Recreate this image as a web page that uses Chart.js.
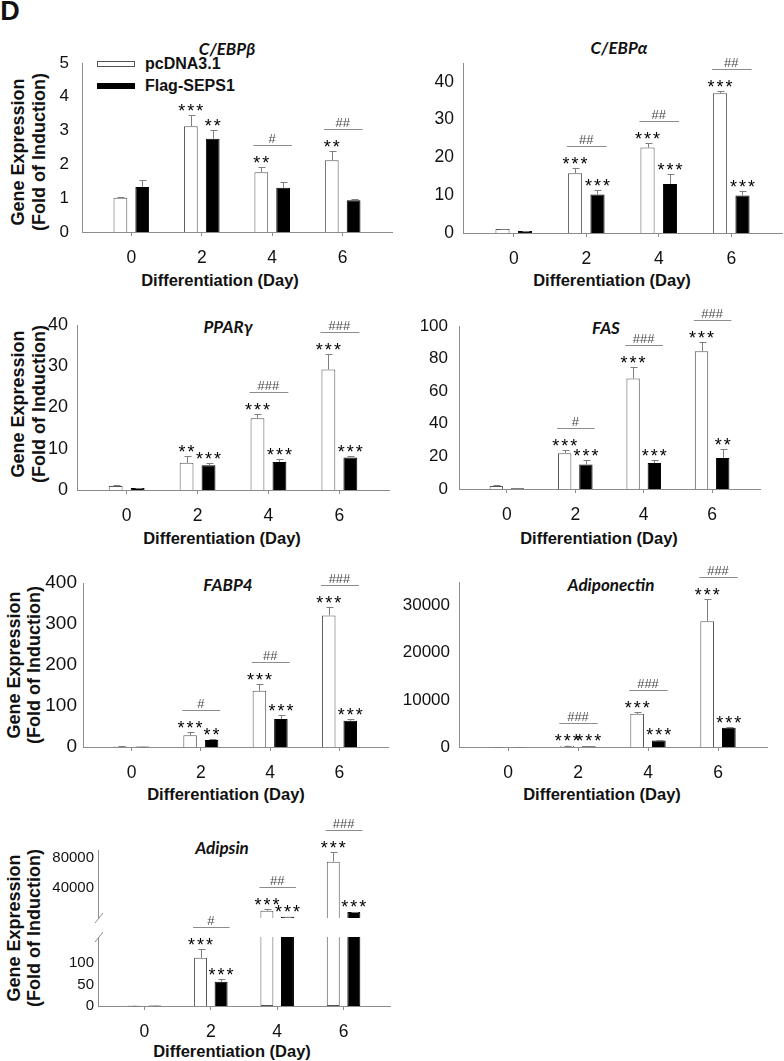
<!DOCTYPE html>
<html>
<head>
<meta charset="utf-8">
<title>SEPS1 adipogenic gene expression</title>
<script src="https://cdn.jsdelivr.net/npm/chart.js@4.4.1/dist/chart.umd.min.js"></script>
<style>
  html, body { margin: 0; padding: 0; background: #fff; }
  body { position: relative; width: 784px; height: 1061px; overflow: hidden; font-family: "Liberation Sans", Arial, sans-serif; color: #111; }
  canvas { position: absolute; }
  .lbl { position: absolute; white-space: nowrap; line-height: 1; transform: translate(-50%, -50%); }
  .gene { font-family: Lato, "Noto Sans", sans-serif; font-weight: bold; font-style: italic; font-size: 17px; }
  .xt { font-weight: bold; font-size: 16.5px; }
  .yt { font-weight: bold; font-size: 18px; transform: translate(-50%, -50%) rotate(-90deg); }
  .leg { position: absolute; font-weight: bold; font-size: 16px; line-height: 1; white-space: nowrap; transform: translateY(-50%); }
  .box { position: absolute; width: 38px; height: 6px; box-sizing: border-box; }
</style>
</head>
<body>
<div class="lbl" style="left:10px;top:11px;font-weight:bold;font-size:27px">D</div>

<div class="lbl gene" style="left:227px;top:48px">C/EBPβ</div>
<div class="lbl gene" style="left:619px;top:47px">C/EBPα</div>
<div class="lbl gene" style="left:228px;top:326px">PPARγ</div>
<div class="lbl gene" style="left:606px;top:327px">FAS</div>
<div class="lbl gene" style="left:228px;top:584px">FABP4</div>
<div class="lbl gene" style="left:611px;top:584px">Adiponectin</div>
<div class="lbl gene" style="left:222px;top:847px">Adipsin</div>

<div class="box" style="left:97px;top:61px;background:#fff;border:1px solid #555"></div>
<div class="leg" style="left:145px;top:63.5px">pcDNA3.1</div>
<div class="box" style="left:97px;top:83px;background:#000"></div>
<div class="leg" style="left:145px;top:85.5px">Flag-SEPS1</div>

<div class="lbl yt" style="left:18px;top:152px">Gene Expression</div>
<div class="lbl yt" style="left:39px;top:152px">(Fold of Induction)</div>
<div class="lbl yt" style="left:18px;top:404px">Gene Expression</div>
<div class="lbl yt" style="left:39px;top:404px">(Fold of Induction)</div>
<div class="lbl yt" style="left:14px;top:665px">Gene Expression</div>
<div class="lbl yt" style="left:34px;top:665px">(Fold of Induction)</div>
<div class="lbl yt" style="left:14px;top:928px">Gene Expression</div>
<div class="lbl yt" style="left:34px;top:928px">(Fold of Induction)</div>

<div class="lbl xt" style="left:220px;top:280px">Differentiation (Day)</div>
<div class="lbl xt" style="left:612px;top:280px">Differentiation (Day)</div>
<div class="lbl xt" style="left:222px;top:538px">Differentiation (Day)</div>
<div class="lbl xt" style="left:599px;top:538px">Differentiation (Day)</div>
<div class="lbl xt" style="left:226px;top:794px">Differentiation (Day)</div>
<div class="lbl xt" style="left:602px;top:794px">Differentiation (Day)</div>
<div class="lbl xt" style="left:232px;top:1051px">Differentiation (Day)</div>

<script>
const days = [0, 2, 4, 6];
const seriesNames = ['pcDNA3.1', 'Flag-SEPS1'];

// C/EBPβ
const cebpbPc = [1.01, 3.13, 1.77, 2.12];
const cebpbPcErr = [1.05, 3.45, 1.92, 2.39];
const cebpbFlag = [1.33, 2.76, 1.31, 0.94];
const cebpbFlagErr = [1.53, 3.03, 1.48, 0.99];
const cebpbPcSig = ['', '***', '**', '**'];
const cebpbFlagSig = ['', '**', '', ''];
const cebpbHash = ['', '', '#', '##'];
const cebpbTicks = [0, 1, 2, 3, 4, 5];

// C/EBPα
const cebpaPc = [1.05, 15.8, 22.6, 37.0];
const cebpaPcErr = [1.1, 17.3, 23.7, 37.5];
const cebpaFlag = [0.5, 10.2, 13.0, 9.9];
const cebpaFlagErr = [0.55, 11.3, 15.6, 11.2];
const cebpaPcSig = ['', '***', '***', '***'];
const cebpaFlagSig = ['', '***', '***', '***'];
const cebpaHash = ['', '##', '##', '##'];
const cebpaTicks = [0, 10, 20, 30, 40];

// PPARγ
const pparPc = [1.0, 6.6, 17.4, 29.2];
const pparPcErr = [1.1, 8.2, 18.4, 33.0];
const pparFlag = [0.5, 6.0, 6.8, 7.9];
const pparFlagErr = [0.6, 6.5, 7.6, 8.3];
const pparPcSig = ['', '**', '***', '***'];
const pparFlagSig = ['', '***', '***', '***'];
const pparHash = ['', '', '###', '###'];
const pparTicks = [0, 10, 20, 30, 40];

// FAS
const fasPc = [1.9, 22.0, 67.8, 84.5];
const fasPcErr = [2.3, 23.9, 74.6, 90.0];
const fasFlag = [0.5, 15.0, 15.9, 19.0];
const fasFlagErr = [0.6, 17.5, 17.5, 24.5];
const fasPcSig = ['', '***', '***', '***'];
const fasFlagSig = ['', '***', '***', '**'];
const fasHash = ['', '#', '###', '###'];
const fasTicks = [0, 20, 40, 60, 80, 100];

// FABP4
const fabpPc = [1.0, 28.5, 137, 321];
const fabpPcErr = [1.5, 36, 154, 341];
const fabpFlag = [1.0, 17, 68, 64];
const fabpFlagErr = [1.2, 19.5, 79, 68];
const fabpPcSig = ['', '***', '***', '***'];
const fabpFlagSig = ['', '**', '***', '***'];
const fabpHash = ['', '#', '##', '###'];
const fabpTicks = [0, 100, 200, 300, 400];

// Adiponectin
const adipoqPc = [1, 280, 7030, 26700];
const adipoqPcErr = [1, 300, 7500, 31300];
const adipoqFlag = [1, 150, 1400, 4080];
const adipoqFlagErr = [1, 160, 1450, 4200];
const adipoqPcSig = ['', '***', '***', '***'];
const adipoqFlagSig = ['', '***', '***', '***'];
const adipoqHash = ['', '###', '###', '###'];
const adipoqTicks = [0, 10000, 20000, 30000];

// Adipsin (broken y axis)
const adipsinPc = [1, 112, 9700, 74600];
const adipsinPcErr = [1, 133, 12000, 88000];
const adipsinFlag = [1, 56, 1500, 8000];
const adipsinFlagErr = [1, 63, 1500, 8000];
const adipsinPcSig = ['', '***', '***', '***'];
const adipsinFlagSig = ['', '***', '***', '***'];
const adipsinHash = ['', '#', '##', '###'];
const adipsinLowTicks = [0, 50, 100];
const adipsinHighTicks = [40000, 80000];

const axisColor = '#8c8c8c';
const fontFamily = '"Liberation Sans", Arial, sans-serif';

const panels = [
  { pc: cebpbPc, pcErr: cebpbPcErr, flag: cebpbFlag, flagErr: cebpbFlagErr,
    pcSig: cebpbPcSig, flagSig: cebpbFlagSig, hash: cebpbHash, ticks: cebpbTicks, max: 5,
    box: { axisX: 82, right: 392, top: 63, bottom: 232, yPad: 13, fs: 17 } },
  { pc: cebpaPc, pcErr: cebpaPcErr, flag: cebpaFlag, flagErr: cebpaFlagErr,
    pcSig: cebpaPcSig, flagSig: cebpaFlagSig, hash: cebpaHash, ticks: cebpaTicks, max: 45,
    box: { axisX: 463, right: 782, top: 63, bottom: 233, yPad: 9, fs: 17.5 } },
  { pc: pparPc, pcErr: pparPcErr, flag: pparFlag, flagErr: pparFlagErr,
    pcSig: pparPcSig, flagSig: pparFlagSig, hash: pparHash, ticks: pparTicks, max: 40,
    box: { axisX: 77, right: 389, top: 325, bottom: 490, yPad: 9, fs: 18 } },
  { pc: fasPc, pcErr: fasPcErr, flag: fasFlag, flagErr: fasFlagErr,
    pcSig: fasPcSig, flagSig: fasFlagSig, hash: fasHash, ticks: fasTicks, max: 100,
    box: { axisX: 459, right: 760, top: 326, bottom: 489, yPad: 11, fs: 17 } },
  { pc: fabpPc, pcErr: fabpPcErr, flag: fabpFlag, flagErr: fabpFlagErr,
    pcSig: fabpPcSig, flagSig: fabpFlagSig, hash: fabpHash, ticks: fabpTicks, max: 400,
    box: { axisX: 83, right: 388, top: 583, bottom: 747, yPad: 6, fs: 19 } },
  { pc: adipoqPc, pcErr: adipoqPcErr, flag: adipoqFlag, flagErr: adipoqFlagErr,
    pcSig: adipoqPcSig, flagSig: adipoqFlagSig, hash: adipoqHash, ticks: adipoqTicks, max: 35000,
    box: { axisX: 459, right: 767, top: 582, bottom: 747, yPad: 9, fs: 17 } },
  { pc: adipsinPc, pcErr: adipsinPcErr, flag: adipsinFlag, flagErr: adipsinFlagErr,
    pcSig: adipsinPcSig, flagSig: adipsinFlagSig, hash: adipsinHash,
    lowTicks: adipsinLowTicks, highTicks: adipsinHighTicks, lowMax: 160, highMax: 90000,
    box: { axisX: 98, right: 390, top: 850, bottom: 1006, highBottom: 918, lowTop: 937, yPad: 4, fs: 15 } }
];

const barStyle = {
  pc: { backgroundColor: '#fff', borderColor: '#555', borderWidth: 1 },
  flag: { backgroundColor: '#000', borderColor: '#000', borderWidth: 1 }
};

function points(vals) {
  return days.map((d, i) => ({ x: d, y: vals[i] }));
}

function marksPlugin(p) {
  return {
    id: 'marks',
    afterDatasetsDraw(chart) {
      const ctx = chart.ctx;
      const tops = { pc: [], flag: [] };
      ctx.save();
      ctx.lineWidth = 1;
      ctx.strokeStyle = '#7f7f7f';
      chart.data.datasets.forEach((ds, di) => {
        const meta = chart.getDatasetMeta(di);
        const ys = chart.scales[meta.yAxisID];
        ds.err.forEach((e, i) => {
          if (e === null) return;
          const bar = meta.data[i];
          const x = Math.round(bar.x) + 0.5;
          const yt = Math.round(ys.getPixelForValue(e)) + 0.5;
          ctx.beginPath();
          ctx.moveTo(x, bar.y);
          ctx.lineTo(x, yt);
          ctx.moveTo(x - 3, yt);
          ctx.lineTo(x + 4, yt);
          ctx.stroke();
          tops[ds.role][i] = { x: bar.x, w: bar.width, y: Math.min(yt, bar.y) };
        });
      });

      days.forEach((d, i) => {
        const a = tops.pc[i], b = tops.flag[i];
        ctx.fillStyle = '#000';
        ctx.font = '18px ' + fontFamily;
        ctx.textAlign = 'center';
        ctx.textBaseline = 'alphabetic';
        ctx.letterSpacing = '2px';
        if (p.pcSig[i]) ctx.fillText(p.pcSig[i], a.x + 1, a.y + 1);
        if (p.flagSig[i]) ctx.fillText(p.flagSig[i], b.x + 1, b.y + 1);
        ctx.letterSpacing = '0px';
        if (p.hash[i]) {
          const yb = Math.round(Math.min(a.y, b.y) - 9.3 - 13) + 0.5;
          ctx.strokeStyle = '#8c8c8c';
          ctx.beginPath();
          ctx.moveTo(a.x - a.w / 2 - 1, yb);
          ctx.lineTo(b.x + b.w / 2 + 2, yb);
          ctx.stroke();
          ctx.fillStyle = '#4d4d4d';
          ctx.font = '13px ' + fontFamily;
          ctx.fillText(p.hash[i], (a.x + b.x) / 2, yb - 2.5);
        }
      });
      ctx.restore();
    },
    afterDraw(chart) {
      if (!chart.scales.yHigh) return;
      const ctx = chart.ctx;
      const ax = chart.scales.yLow.right;
      const hb = chart.scales.yHigh.bottom, lt = chart.scales.yLow.top;
      ctx.save();
      ctx.strokeStyle = axisColor;
      ctx.lineWidth = 1;
      ctx.beginPath();
      ctx.moveTo(ax - 3, hb + 5); ctx.lineTo(ax + 5, hb - 5);
      ctx.moveTo(ax - 3, lt + 5); ctx.lineTo(ax + 5, lt - 5);
      ctx.stroke();
      ctx.restore();
    }
  };
}

function makeChart(p) {
  const b = p.box;
  const padTop = 34, yW = 70, xH = 40;
  const left = b.axisX - yW, top = b.top - padTop;
  const w = b.right - left + 2, h = b.bottom - top + xH;
  const cv = document.createElement('canvas');
  cv.width = w;
  cv.height = h;
  cv.style.left = left + 'px';
  cv.style.top = top + 'px';
  cv.style.width = w + 'px';
  cv.style.height = h + 'px';
  document.body.appendChild(cv);

  const tickFont = { family: fontFamily, size: b.fs };

  const yAxis = (min, max, ticks) => ({
    type: 'linear', position: 'left', min: min, max: max, stacked: false,
    afterBuildTicks: s => { s.ticks = ticks.map(v => ({ value: v })); },
    afterFit: s => { s.width = yW; },
    grid: { display: false, drawTicks: false },
    border: { color: axisColor },
    ticks: { padding: b.yPad, color: '#111', font: tickFont, autoSkip: false, callback: v => String(v) }
  });

  const scales = {
    x: {
      type: 'linear', min: -1.4, max: 7.4, offset: false, z: 1,
      afterBuildTicks: s => { s.ticks = days.map(v => ({ value: v })); },
      afterFit: s => { s.height = xH; },
      grid: { display: true, offset: false, drawOnChartArea: false, drawTicks: true, tickLength: 4, color: axisColor },
      border: { color: axisColor },
      ticks: { padding: 12, color: '#111', font: { family: fontFamily, size: 17.5 }, maxRotation: 0, autoSkip: false, callback: v => String(v) }
    }
  };

  let datasets;
  if (p.lowMax) {
    const lm = p.lowMax;
    scales.yLow = Object.assign(yAxis(0, lm, p.lowTicks), { stack: 'v', stackWeight: b.bottom - b.lowTop });
    scales.yGap = {
      type: 'linear', position: 'left', min: 0, max: 1, stack: 'v', stackWeight: b.lowTop - b.highBottom,
      afterFit: s => { s.width = yW; },
      grid: { display: false, drawTicks: false }, border: { display: false }, ticks: { display: false }
    };
    scales.yHigh = Object.assign(yAxis(0, p.highMax, p.highTicks), { stack: 'v', stackWeight: b.highBottom - b.top });
    const skip = vals => (c => vals[c.dataIndex] > lm ? 'top' : 'start');
    datasets = [
      Object.assign({ label: seriesNames[0], role: 'pc', stack: 'pc', yAxisID: 'yLow',
        data: points(p.pc.map(v => Math.min(v, lm))), err: p.pcErr.map((e, i) => p.pc[i] <= lm ? e : null),
        borderSkipped: skip(p.pc) }, barStyle.pc),
      Object.assign({ label: seriesNames[1], role: 'flag', stack: 'flag', yAxisID: 'yLow',
        data: points(p.flag.map(v => Math.min(v, lm))), err: p.flagErr.map((e, i) => p.flag[i] <= lm ? e : null),
        borderSkipped: skip(p.flag) }, barStyle.flag),
      Object.assign({ label: seriesNames[0], role: 'pc', stack: 'pc', yAxisID: 'yHigh',
        data: points(p.pc.map(v => v > lm ? v : null)), err: p.pcErr.map((e, i) => p.pc[i] > lm ? e : null) }, barStyle.pc),
      Object.assign({ label: seriesNames[1], role: 'flag', stack: 'flag', yAxisID: 'yHigh',
        data: points(p.flag.map(v => v > lm ? v : null)), err: p.flagErr.map((e, i) => p.flag[i] > lm ? e : null) }, barStyle.flag)
    ];
  } else {
    scales.y = yAxis(0, p.max, p.ticks);
    datasets = [
      Object.assign({ label: seriesNames[0], role: 'pc', data: points(p.pc), err: p.pcErr }, barStyle.pc),
      Object.assign({ label: seriesNames[1], role: 'flag', data: points(p.flag), err: p.flagErr }, barStyle.flag)
    ];
  }

  new Chart(cv, {
    type: 'bar',
    data: { datasets: datasets },
    options: {
      responsive: false,
      animation: false,
      layout: { padding: { top: padTop, right: 2, left: 0, bottom: 0 } },
      datasets: { bar: { categoryPercentage: 0.62, barPercentage: 0.63 } },
      plugins: { legend: { display: false }, tooltip: { enabled: false } },
      scales: scales
    },
    plugins: [marksPlugin(p)]
  });
}

panels.forEach(makeChart);
</script>
</body>
</html>
